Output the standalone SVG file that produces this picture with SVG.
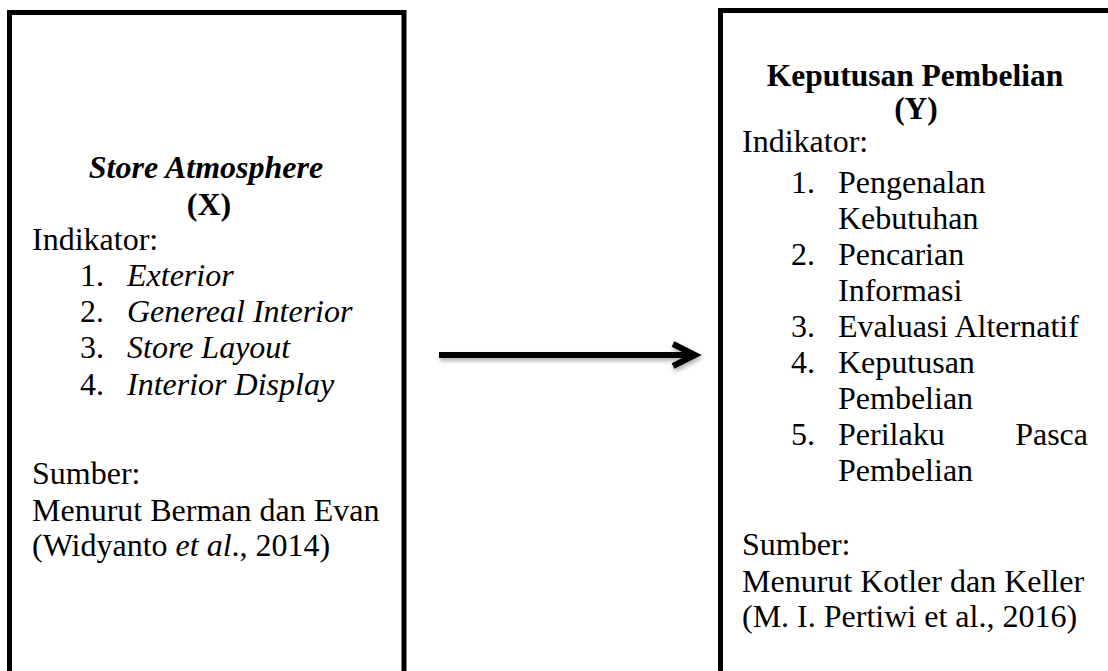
<svg xmlns="http://www.w3.org/2000/svg" width="1108" height="671" viewBox="0 0 1108 671">
<defs>
<filter id="shadow" x="-10%" y="-100%" width="120%" height="300%">
<feDropShadow dx="1" dy="3" stdDeviation="2" flood-color="#000" flood-opacity="0.3"/>
</filter>
</defs>
<style>
.box{fill:#fff;stroke:#000;stroke-width:5}
text{font-family:"Liberation Serif","Times New Roman",serif;font-size:32px;fill:#000}
.b{font-weight:bold}
.i{font-style:italic}
.c{text-anchor:middle}
.t{font-size:31.5px}
.conn{fill:none;stroke:#000;stroke-width:6}
</style>
<rect x="0" y="0" width="1108" height="671" fill="#fff"/>
<g id="node-x">
<rect class="box" x="9.5" y="12.5" width="394.5" height="700"/>
<text class="b i c" x="206" y="178">Store Atmosphere</text>
<text class="b c" x="209" y="215">(X)</text>
<text x="32" y="250">Indikator:</text>
<text x="80" y="286">1.</text><text class="i" x="127" y="286">Exterior</text>
<text x="80" y="322">2.</text><text class="i" x="127" y="322">Genereal Interior</text>
<text x="80" y="358">3.</text><text class="i" x="127" y="358">Store Layout</text>
<text x="80" y="395">4.</text><text class="i" x="127" y="395">Interior Display</text>
<text x="32" y="484">Sumber:</text>
<text x="32" y="521">Menurut Berman dan Evan</text>
<text x="32" y="556">(Widyanto <tspan class="i">et al</tspan>., 2014)</text>
</g>
<g id="node-y">
<rect class="box" x="720.5" y="10.5" width="420" height="700"/>
<text class="b c t" x="915" y="86">Keputusan Pembelian</text>
<text class="b c t" x="916" y="119">(Y)</text>
<text x="742" y="152">Indikator:</text>
<text x="791" y="193">1.</text><text x="838" y="193">Pengenalan</text>
<text x="838" y="229">Kebutuhan</text>
<text x="791" y="265">2.</text><text x="838" y="265">Pencarian</text>
<text x="838" y="301">Informasi</text>
<text x="791" y="337">3.</text><text x="838" y="337">Evaluasi Alternatif</text>
<text x="791" y="373">4.</text><text x="838" y="373">Keputusan</text>
<text x="838" y="409">Pembelian</text>
<text x="791" y="445">5.</text><text x="838" y="445">Perilaku</text><text x="1088" y="445" style="text-anchor:end">Pasca</text>
<text x="838" y="481">Pembelian</text>
<text x="742" y="555">Sumber:</text>
<text x="742" y="592">Menurut Kotler dan Keller</text>
<text x="742" y="627">(M. I. Pertiwi et al., 2016)</text>
</g>
<g id="connectors" filter="url(#shadow)">
<line class="conn" x1="439" y1="355" x2="694" y2="355"/>
<polyline class="conn" points="673,344 695,355 673,366"/>
</g>
</svg>
